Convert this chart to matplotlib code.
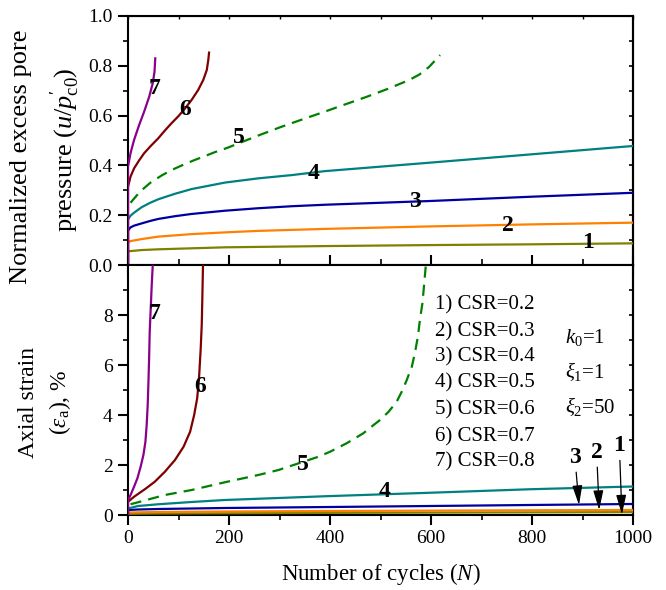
import matplotlib
matplotlib.use("Agg")
import matplotlib.pyplot as plt
from matplotlib.ticker import MultipleLocator

plt.rcParams['font.family'] = ['Liberation Serif', 'DejaVu Serif']
plt.rcParams['mathtext.fontset'] = 'custom'
plt.rcParams['mathtext.rm'] = 'Liberation Serif'
plt.rcParams['mathtext.it'] = 'Liberation Serif:italic'
plt.rcParams['mathtext.bf'] = 'Liberation Serif:bold'

# ---------------- data: top panel (normalized excess pore pressure) ----------------
N1_u = [0, 0, 27, 60, 192, 390, 598, 796, 1000]
u1 = [0, 0.055, 0.060, 0.063, 0.071, 0.076, 0.080, 0.083, 0.087]
N2_u = [0, 0, 5, 27, 60, 93, 126, 192, 258, 390, 598, 796, 1000]
u2 = [0, 0.091, 0.096, 0.104, 0.114, 0.119, 0.124, 0.131, 0.137, 0.145, 0.155, 0.163, 0.170]
N3_u = [0, 0, 5, 12, 27, 44, 60, 93, 126, 192, 258, 324, 390, 598, 796, 1000]
u3 = [0, 0.138, 0.151, 0.158, 0.167, 0.177, 0.185, 0.196, 0.205, 0.218, 0.228, 0.236, 0.242,
      0.257, 0.274, 0.290]
N4_u = [0, 0, 5, 12, 27, 44, 60, 93, 126, 192, 258, 324, 390, 598, 796, 1000]
u4 = [0, 0.183, 0.198, 0.210, 0.232, 0.250, 0.264, 0.286, 0.305, 0.331, 0.348, 0.361, 0.377,
      0.411, 0.444, 0.478]
N5_u = [5, 24, 44, 67, 87, 110, 130, 153, 173, 196, 258, 301, 347, 387, 423, 472, 514, 557,
        577, 596, 618]
u5 = [0.250, 0.295, 0.330, 0.360, 0.382, 0.403, 0.420, 0.438, 0.454, 0.470, 0.520, 0.553,
      0.586, 0.614, 0.640, 0.675, 0.707, 0.743, 0.765, 0.795, 0.843]
N6_u = [0, 0, 5, 12, 22, 32, 45, 60, 73, 86, 100, 113, 126, 139, 149, 156, 159, 160.5]
u6 = [0, 0.314, 0.355, 0.388, 0.420, 0.449, 0.478, 0.509, 0.540, 0.569, 0.598, 0.629, 0.663,
      0.703, 0.743, 0.783, 0.823, 0.853]
N7_u = [0, 0, 5, 12, 22, 32, 42, 49, 52.5, 54]
u7 = [0, 0.395, 0.449, 0.502, 0.562, 0.616, 0.676, 0.730, 0.776, 0.830]

# ---------------- data: bottom panel (axial strain, %) ----------------
N1_e = [0, 0, 60, 192, 400, 598, 796, 1000]
e1 = [0, 0.05, 0.06, 0.07, 0.085, 0.095, 0.105, 0.115]
N2_e = [0, 0, 60, 192, 400, 598, 796, 1000]
e2 = [0, 0.10, 0.12, 0.14, 0.16, 0.175, 0.19, 0.20]
N3_e = [0, 0, 20, 60, 192, 400, 598, 796, 1000]
e3 = [0, 0.20, 0.22, 0.24, 0.28, 0.32, 0.36, 0.40, 0.44]
N4_e = [0, 0, 20, 60, 126, 192, 390, 598, 796, 1000]
e4 = [0, 0.26, 0.36, 0.43, 0.52, 0.60, 0.75, 0.89, 1.03, 1.14]
N5_e = [5, 20, 73, 126, 192, 258, 298, 377, 400, 433, 466, 482, 499, 516, 532, 542, 552, 562,
        568, 574, 578, 583, 586, 592]
e5 = [0.43, 0.51, 0.80, 1.00, 1.31, 1.60, 1.80, 2.33, 2.53, 2.87, 3.27, 3.53, 3.80, 4.13, 4.53,
      4.93, 5.40, 5.93, 6.47, 7.13, 7.80, 8.47, 9.13, 10.5]
N6_e = [0, 0, 12, 34, 53, 73, 93, 110, 123, 131, 137, 141, 144, 146, 147.2, 148.5, 149]
e6 = [0, 0.53, 0.73, 1.04, 1.33, 1.73, 2.20, 2.73, 3.33, 4.00, 4.67, 5.60, 6.67, 7.60, 8.67,
      10.0, 10.5]
N7_e = [0, 0, 5, 12, 18.6, 25, 30.5, 34.5, 37, 39, 40.5, 41.8, 43, 45, 47, 49, 49.5]
e7 = [0, 0.60, 0.80, 1.13, 1.47, 1.93, 2.40, 2.93, 3.60, 4.40, 5.33, 6.27, 7.33, 8.27, 9.20,
      10.0, 10.5]

colors = ['#808000', '#FF8000', '#0000A0', '#008080', '#008000', '#800000', '#8B008B']
csr_labels = ['1) CSR=0.2', '2) CSR=0.3', '3) CSR=0.4', '4) CSR=0.5',
              '5) CSR=0.6', '6) CSR=0.7', '7) CSR=0.8']
param_labels = ['$k_0$=1', r'$\xi_1$=1', r'$\xi_2$=50']

top_curves = [(N1_u, u1), (N2_u, u2), (N3_u, u3), (N4_u, u4), (N5_u, u5), (N6_u, u6), (N7_u, u7)]
bot_curves = [(N1_e, e1), (N2_e, e2), (N3_e, e3), (N4_e, e4), (N5_e, e5), (N6_e, e6), (N7_e, e7)]

fig = plt.figure(figsize=(6.66, 5.9), dpi=100)
L, W = 128 / 666, 505 / 666
ax1 = fig.add_axes([L, 1 - 265 / 590, W, 249 / 590])
ax2 = fig.add_axes([L, 1 - 515 / 590, W, 250 / 590])

TFS = 14
for ax, curves in ((ax1, top_curves), (ax2, bot_curves)):
    for i, (x, y) in enumerate(curves):
        ls = (0, (5, 3.2)) if i == 4 else '-'
        ax.plot(x, y, color=colors[i], lw=1.6, ls=ls, zorder=3 + i * 0.01)
    for s in ax.spines.values():
        s.set_linewidth(1.5)
    ax.set_xlim(0, 1000)
    ax.xaxis.set_major_locator(MultipleLocator(200))
    ax.xaxis.set_minor_locator(MultipleLocator(100))

ax1.set_ylim(0, 1.0)
ax1.yaxis.set_major_locator(MultipleLocator(0.2))
ax1.yaxis.set_minor_locator(MultipleLocator(0.1))
ax1.yaxis.set_major_formatter(plt.FuncFormatter(lambda v, p: f"{v:.1f}"))
ax1.tick_params(axis='y', which='major', direction='out', length=7, width=1.5, labelsize=TFS, pad=4)
ax1.tick_params(axis='y', which='minor', direction='out', length=3.5, width=1.2)
ax1.tick_params(axis='x', which='major', direction='inout', length=14, width=1.5, labelbottom=False)
ax1.tick_params(axis='x', which='minor', direction='inout', length=8, width=1.2)

ax2.set_ylim(0, 10)
ax2.set_yticks([0, 2, 4, 6, 8])
ax2.yaxis.set_minor_locator(MultipleLocator(1))
ax2.tick_params(axis='y', which='major', direction='out', length=7, width=1.5, labelsize=TFS, pad=4)
ax2.tick_params(axis='y', which='minor', direction='out', length=3.5, width=1.2)
ax2.tick_params(axis='x', which='major', direction='out', length=7, width=1.5, labelsize=TFS, pad=4)
ax2.tick_params(axis='x', which='minor', direction='out', length=3.5, width=1.2)

# right-side inward ticks
for ax, step in ((ax1, 0.1), (ax2, 1)):
    sec = ax.secondary_yaxis('right')
    sec.yaxis.set_major_locator(MultipleLocator(step))
    sec.tick_params(axis='y', direction='in', length=3, width=1.2, labelright=False)
    sec.spines['right'].set_linewidth(1.5)
secx = ax1.secondary_xaxis('top')
secx.xaxis.set_major_locator(MultipleLocator(100))
secx.tick_params(axis='x', direction='in', length=2.5, width=1.0, labeltop=False)

# curve numbers
bold = dict(fontsize=17, fontweight='bold', ha='center', va='center', zorder=5)
top_pos = [(911, 0.09), (753, 0.157), (568, 0.254), (367, 0.368), (220, 0.513), (114, 0.625), (52, 0.71)]
for i, (x, y) in enumerate(top_pos):
    ax1.text(x, y, str(i + 1), **bold)
bot_pos = {4: (509, 0.93), 5: (347, 2.0), 6: (142.6, 5.13), 7: (52, 8.07)}
for k, (x, y) in bot_pos.items():
    ax2.text(x, y, str(k), **bold)

# arrows for curves 1-3 in bottom panel
arrows = {3: ((885, 2.3), (893, 0.4)), 2: ((928, 2.5), (933, 0.2)), 1: ((973, 2.77), (978, 0.02))}
for k, (txt, tip) in arrows.items():
    ax2.annotate(str(k), xy=tip, xytext=txt, fontsize=17, fontweight='bold',
                 ha='center', va='center', zorder=6,
                 arrowprops=dict(arrowstyle='-|>,head_length=0.7,head_width=0.18',
                                 color='k', lw=0.9, shrinkA=1, shrinkB=0))

# CSR text block
csr_y = [8.23, 7.16, 6.13, 5.11, 4.03, 2.96, 1.93]
for s, y in zip(csr_labels, csr_y):
    ax2.text(608, y, s, fontsize=15, ha='left', va='baseline')
par_y = [6.87, 5.47, 4.09]
for s, y in zip(param_labels, par_y):
    ax2.text(865, y, s, fontsize=15, ha='left', va='baseline')

# axis labels
fig.text(21 / 666, 1 - 157 / 590, 'Normalized excess pore', rotation=90,
         fontsize=19, ha='center', va='center')
fig.text(65 / 666, 1 - 150 / 590, r"pressure ($u/p^{\prime}_{\mathrm{c0}}$)", rotation=90,
         fontsize=19, ha='center', va='center')
fig.text(29 / 666, 1 - 402 / 590, 'Axial strain', rotation=90,
         fontsize=17, ha='center', va='center')
fig.text(60 / 666, 1 - 402 / 590, r'($\varepsilon_{\mathrm{a}}$), %', rotation=90,
         fontsize=17, ha='center', va='center')
fig.text(381 / 666, 1 - 574 / 590, 'Number of cycles ($N$)', fontsize=16.5,
         ha='center', va='center')

fig.savefig('out.png', dpi=100)
